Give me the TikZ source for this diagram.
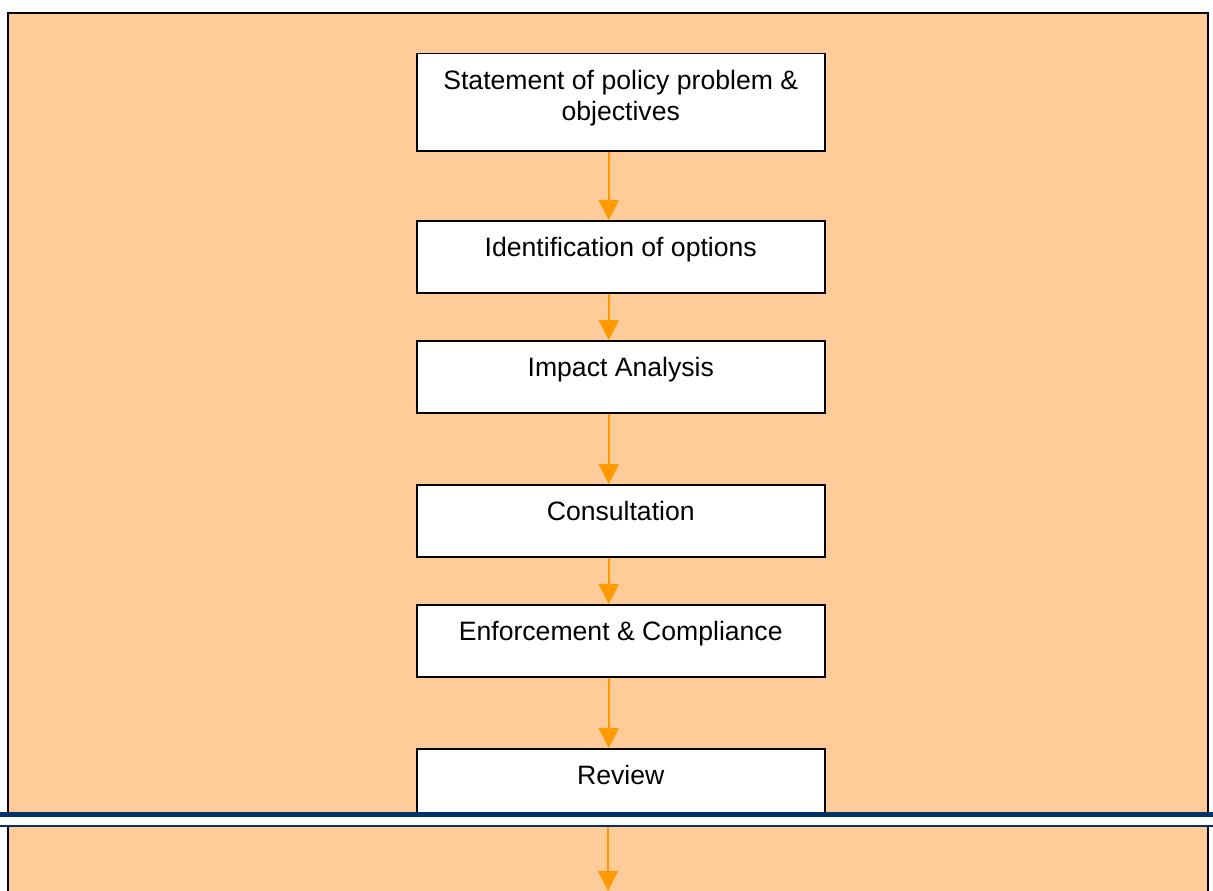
\documentclass[tikz,border=0pt]{standalone}
\usepackage{fontspec}
\setmainfont{Liberation Sans}
\usetikzlibrary{arrows.meta}
\definecolor{peach}{HTML}{FFCC99}
\definecolor{amber}{HTML}{FF9900}
\definecolor{navy}{HTML}{003366}
\tikzset{stage/.style={draw,line width=1.5pt,fill=white,anchor=north west,inner sep=0pt,
    minimum width=408pt,minimum height=72pt,text height=20pt,text depth=20pt,
    align=center,font=\fontsize{26.6}{31}\selectfont},
  flow/.style={amber,line width=1.5pt,-{Triangle[width=20pt,length=20pt]}}}
\begin{document}
\begin{tikzpicture}[x=1pt,y=-1pt]
  \useasboundingbox(0,0)rectangle(1213,891);
  \fill[peach](8,13)rectangle(1208,891);
  \draw[line width=2pt](8,891)--(8,13)--(1208,13)--(1208,891);
  % stages
  \node[stage,minimum height=97pt,text height=57pt](problem)at(416,53){Statement of policy problem \&\\objectives};
  \node[stage](options)at(416,220){Identification of options};
  \node[stage](impact)at(416,340){Impact Analysis};
  \node[stage](consult)at(416,484){Consultation};
  \node[stage](enforce)at(416,604){Enforcement \& Compliance};
  \node[stage](review)at(416,748){Review};
  \foreach \a/\b in {problem/options,options/impact,impact/consult,consult/enforce,enforce/review}
    \draw[flow]([xshift=-12pt]\a.south)--([xshift=-12pt]\b.north);
  % page break rule
  \fill[white](0,812)rectangle(1213,826.5);
  \fill[navy](0,812)rectangle(1213,817);
  \fill[navy](0,824.7)rectangle(1213,826.5);
  \coordinate(next top)at(608,826.5);
  \coordinate(next end)at(608,891);
  \draw[flow](next top)--(next end);
\end{tikzpicture}
\end{document}
